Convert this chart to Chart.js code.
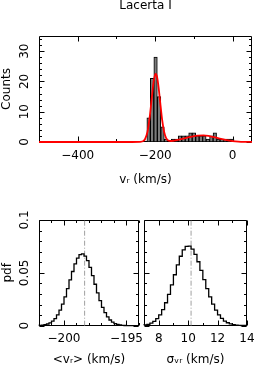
<!DOCTYPE html>
<html><head><meta charset="utf-8">
<script src="https://cdn.jsdelivr.net/npm/chart.js@4.4.0/dist/chart.umd.min.js"></script>
<style>
html,body{margin:0;padding:0;background:#fff;width:261px;height:374px;overflow:hidden;position:relative}
canvas{position:absolute}
</style></head><body>
<canvas id="top" width="261" height="195" style="left:0;top:0"></canvas>
<canvas id="bl" width="150" height="174" style="left:0;top:200px"></canvas>
<canvas id="br" width="121" height="174" style="left:140px;top:200px"></canvas>
<script>
// ---- top panel: radial velocity histogram (counts per 9 km/s bin) ----
const histCenters = [-217,-208,-199,-190,-181,-172,-163,-154,-145,-136,-127,-118,-109,-100,-91,-82,-73,-64,-55,-46,-37,-28,-19,-10,-1];
const histCounts  = [8,21,28,15,5,1,0,1,1,2,2,2,3,3,2,2,2,1,2,3,1,1,1,1,1];
// red fitted model
const fitV = [-500,-260,-240,-230,-226,-220,-214,-209,-204,-200,-198.5,-195,-191,-187,-182,-177,-172,-166,-158,-148,-135,-120,-105,-90,-75,-60,-45,-30,-15,0,15,30,50];
const fitC = [0,0,0.05,0.37,0.99,3.3,8.4,14.3,19.9,22.3,22.5,21.4,17.8,13.0,7.3,3.4,1.4,0.5,0.33,0.52,0.86,1.33,1.81,2.13,2.19,1.94,1.50,1.01,0.59,0.30,0.13,0.05,0.01];
const topXTicks = [-400,-200,0];
const topXMinor = [-300,-100];
const topYTicks = [0,10,20,30];
const topYMinor = [2,4,6,8,12,14,16,18,22,24,26,28,32,34];

// ---- bottom-left: pdf of mean velocity (0.2 km/s bins from -202) ----
const meanLo = -202, meanBin = 0.2;
const meanPdf = [0.0001,0.0002,0.0005,0.0009,0.0016,0.0026,0.0043,0.0067,0.0102,0.0147,
                 0.0205,0.0273,0.0351,0.0433,0.0513,0.0585,0.0640,0.0672,0.0679,0.0659,
                 0.0615,0.0551,0.0474,0.0392,0.0311,0.0238,0.0174,0.0123,0.0083,0.0054,
                 0.0034,0.0020,0.0012,0.0007,0.0003,0.0002,0.0001,0.0001,0,0];
const meanBest = [-198.35];
const meanXTicks = [-200,-195];
const meanXMinor = [-202,-201,-199,-198,-197,-196,-194];

// ---- bottom-right: pdf of velocity dispersion (0.2 km/s bins from 7) ----
const sigLo = 7, sigBin = 0.2;
const sigPdf = [0.0004,0.0007,0.0013,0.0024,0.0040,0.0066,0.0102,0.0152,0.0217,0.0296,
                0.0386,0.0482,0.0575,0.0657,0.0718,0.0751,0.0752,0.0725,0.0674,0.0605,
                0.0523,0.0436,0.0351,0.0272,0.0204,0.0147,0.0102,0.0069,0.0044,0.0028,
                0.0017,0.0010,0.0005,0.0003,0.0002];
const sigBest = [10.2];
const sigXTicks = [8,10,12,14];
const sigXMinor = [9,11,13];

const pdfYTicks = [0,0.05,0.1];
const pdfYMinor = [0.01,0.02,0.03,0.04,0.06,0.07,0.08,0.09];

Chart.defaults.font.family = 'DejaVu Sans';
Chart.defaults.font.size = 12;
Chart.defaults.color = '#000';
Chart.defaults.animation = false;

const fmt = v => v < 0 ? '\u2212' + Math.abs(v) : String(v);
const setTicks = arr => (s => { s.ticks = arr.map(v => ({value: v})); });

const frameTicks = {
  id: 'frameTicks',
  beforeDatasetsDraw(chart, args, o) {
    const {ctx, chartArea: a} = chart;
    const x = chart.scales.x, y = chart.scales.y;
    ctx.save();
    ctx.strokeStyle = '#000';
    ctx.lineWidth = 1;
    const L = Math.round(a.left) + 0.5, R = Math.round(a.right) - 0.5;
    const T = Math.round(a.top) + 0.5, B = Math.round(a.bottom) - 0.5;
    ctx.beginPath();
    ctx.rect(L, T, R - L, B - T);
    const tx = (vals, len) => vals.forEach(v => {
      const p = Math.round(x.getPixelForValue(v)) + 0.5;
      ctx.moveTo(p, B); ctx.lineTo(p, B - len);
      ctx.moveTo(p, T); ctx.lineTo(p, T + len);
    });
    const ty = (vals, len) => vals.forEach(v => {
      const p = Math.round(y.getPixelForValue(v)) + 0.5;
      ctx.moveTo(L, p); ctx.lineTo(L + len, p);
      ctx.moveTo(R, p); ctx.lineTo(R - len, p);
    });
    tx(o.xMajor, 5); tx(o.xMinor, 2.5);
    ty(o.yMajor, 5); ty(o.yMinor, 2.5);
    ctx.stroke();
    ctx.restore();
  }
};

const tickFont = {family: 'DejaVu Sans', size: 12, weight: 'normal'};
const titleFont = {family: 'DejaVu Sans', size: 12, weight: 'normal'};

// ---------- TOP ----------
new Chart(document.getElementById('top'), {
  type: 'bar',
  plugins: [frameTicks],
  data: {
    datasets: [
      { type: 'line', data: fitV.map((v, i) => ({x: v, y: fitC[i]})),
        borderColor: '#ff0000', borderWidth: 1.8, pointRadius: 0,
        cubicInterpolationMode: 'monotone', fill: false, clip: false, order: 0 },
      { type: 'bar', data: histCenters.map((c, i) => ({x: c, y: histCounts[i]})),
        backgroundColor: '#7a7a7a', borderColor: '#000', borderWidth: 1, borderSkipped: false,
        barPercentage: 1, categoryPercentage: 1, order: 1 }
    ]
  },
  options: {
    responsive: false, animation: false,
    layout: {padding: {left: 0, right: 9, top: 0, bottom: 0}},
    plugins: {
      legend: {display: false}, tooltip: {enabled: false},
      title: {display: true, text: 'Lacerta I', fullSize: false, font: titleFont, color: '#000',
              padding: {top: -1.3, bottom: 22.9}},
      frameTicks: {xMajor: topXTicks, xMinor: topXMinor, yMajor: topYTicks, yMinor: topYMinor}
    },
    scales: {
      x: { type: 'linear', min: -500, max: 50, offset: false,
           grid: {display: false, drawTicks: false}, border: {display: false},
           afterBuildTicks: setTicks(topXTicks),
           afterFit: s => { s.height = 53; },
           ticks: {callback: fmt, font: tickFont, padding: 7, autoSkip: false, maxRotation: 0},
           title: {display: true, text: 'v\u1D63 (km/s)', font: titleFont, padding: {top: 0, bottom: 7.8}} },
      y: { min: 0, max: 35,
           grid: {display: false, drawTicks: false}, border: {display: false},
           afterBuildTicks: setTicks(topYTicks),
           afterFit: s => { s.width = 39; },
           ticks: {callback: fmt, font: tickFont, padding: 6.4, minRotation: 90, maxRotation: 90, crossAlign: 'center'},
           title: {display: true, text: 'Counts', font: titleFont, padding: {top: 0, bottom: 0}} }
    }
  }
});

function pdfChart(id, lo, bin, vals, best, xmin, xmax, xt, xm, withY, xTitle, pad) {
  const steps = vals.map((v, i) => ({x: lo + i * bin, y: v}));
  steps.push({x: lo + vals.length * bin, y: vals[vals.length - 1]});
  return new Chart(document.getElementById(id), {
    type: 'line',
    plugins: [frameTicks],
    data: {
      datasets: [
        { data: steps, stepped: 'after', borderColor: '#000', borderWidth: 1.3, pointRadius: 0,
          fill: false, clip: false, order: 0 },
        { data: [{x: best[0], y: 0}, {x: best[0], y: 0.1}], borderColor: '#a0a0a0', borderWidth: 1,
          borderDash: [5, 2, 1, 2], pointRadius: 0, fill: false, order: 1 }
      ]
    },
    options: {
      responsive: false, animation: false,
      layout: {padding: pad},
      plugins: {
        legend: {display: false}, tooltip: {enabled: false},
        frameTicks: {xMajor: xt, xMinor: xm, yMajor: pdfYTicks, yMinor: pdfYMinor}
      },
      scales: {
        x: { type: 'linear', min: xmin, max: xmax,
             grid: {display: false, drawTicks: false}, border: {display: false},
             afterBuildTicks: setTicks(xt),
             afterFit: s => { s.height = 48.3; },
             ticks: {callback: fmt, font: tickFont, padding: 6.4, autoSkip: false, maxRotation: 0},
             title: {display: true, text: xTitle, font: titleFont, padding: {top: 0, bottom: 6.8}} },
        y: { display: withY, min: 0, max: 0.1,
             grid: {display: false, drawTicks: false}, border: {display: false},
             afterBuildTicks: setTicks(pdfYTicks),
             afterFit: s => { s.width = withY ? 39 : 0; },
             ticks: {callback: fmt, font: tickFont, padding: 0.6, minRotation: 90, maxRotation: 90, crossAlign: 'center'},
             title: {display: true, text: 'pdf', font: titleFont, padding: {top: 1, bottom: 0}} }
      }
    }
  });
}

pdfChart('bl', meanLo, meanBin, meanPdf, meanBest, -202, -194, meanXTicks, meanXMinor, true,
         '<v\u1D63> (km/s)', {left: 0, right: 5, top: 20, bottom: 0});
pdfChart('br', sigLo, sigBin, sigPdf, sigBest, 7, 14, sigXTicks, sigXMinor, false,
         '\u03C3\u1D65\u1D63 (km/s)', {left: 4, right: 10.3, top: 20, bottom: 0});
</script>
</body></html>
